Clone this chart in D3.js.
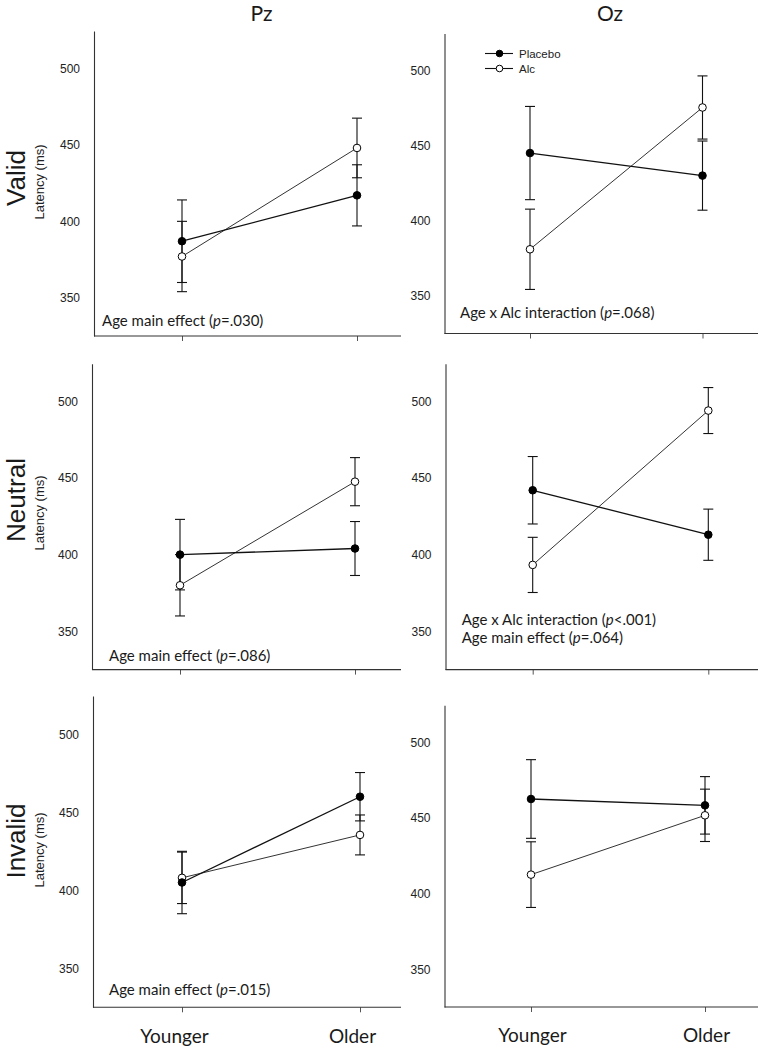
<!DOCTYPE html>
<html><head><meta charset="utf-8">
<script src="https://cdn.jsdelivr.net/npm/d3@7"></script>
<style>
body{margin:0;background:#fff;}
svg{display:block;}
</style></head>
<body>
<svg id="chart" width="762" height="1050"></svg>
<script>
// ---------- DATA ----------
const categories = ["Younger", "Older"];
const sites = ["Pz", "Oz"];
const conditions = ["Valid", "Neutral", "Invalid"];
const yTicks = [350, 400, 450, 500];
const yDomain = [325, 524.5];

// means [Younger, Older], per condition (rows) x site (cols)
const placeboMean = [
  [[387, 417], [445, 430]],
  [[400, 404], [442, 413]],
  [[405, 460], [462.5, 458.3]]
];
const placeboErr = [
  [[27, 20], [31, 23]],
  [[23, 17.6], [22, 16.7]],
  [[20, 15.5], [26, 19]]
];
const alcMean = [
  [[377, 448], [381, 475.3]],
  [[380, 447.6], [393.3, 494]],
  [[408, 435.5], [412.5, 451.7]]
];
const alcErr = [
  [[23, 19.5], [26.7, 21]],
  [[20, 15.7], [18, 15]],
  [[16.5, 12.8], [21.7, 17.3]]
];
const annotations = [
  [["Age main effect (|p|=.030)"], ["Age x Alc interaction (|p|=.068)"]],
  [["Age main effect (|p|=.086)"], ["Age x Alc interaction (|p|<.001)", "Age main effect (|p|=.064)"]],
  [["Age main effect (|p|=.015)"], []]
];
const legendLabels = ["Placebo", "Alc"];

// ---------- LAYOUT ----------
const L = {
  yRange: [
    [[336, 31], [333.5, 33.5]],
    [[669.6, 363.8], [669.6, 363.8]],
    [[1007.3, 696.1], [1007, 705.2]]
  ],
  axisX: [[94, 444.5], [92, 445.5], [93, 444.5]],
  axisEnd: [401, 758],
  pts: [
    [[182, 357], [530, 702.5]],
    [[180, 355], [532.7, 708.3]],
    [[182, 360], [531, 705]]
  ],
  annX: [[102, 460], [109, 461.7], [109, 0]],
  annY: [[326, 318], [661, 624.5], [995, 0]],
  rowLabelY: [178, 500, 841],
  latY: [182, 513, 850],
  colTitleX: [261.5, 610]
};

const svg = d3.select("#chart");
const ink = "#1a1a1a";
const bodyFont = "Lato, 'Open Sans', sans-serif";
const arial = "'Liberation Sans', Arial, sans-serif";

// column titles
sites.forEach((s, c) => {
  svg.append("text").attr("x", L.colTitleX[c]).attr("y", 21)
    .attr("text-anchor", "middle").attr("font-family", bodyFont)
    .attr("font-size", 21).attr("fill", ink).text(s);
});

// row labels
conditions.forEach((cond, r) => {
  svg.append("text")
    .attr("transform", `translate(25,${L.rowLabelY[r]}) rotate(-90)`)
    .attr("text-anchor", "middle").attr("font-family", arial)
    .attr("font-size", 26).attr("fill", ink).text(cond);
  svg.append("text")
    .attr("transform", `translate(44,${L.latY[r]}) rotate(-90)`)
    .attr("text-anchor", "middle").attr("font-family", arial)
    .attr("font-size", 13).attr("fill", "#222").text("Latency (ms)");
});

function richText(sel, str) {
  str.split("|").forEach((part, i) => {
    if (!part) return;
    sel.append("tspan").attr("font-style", i % 2 === 1 ? "italic" : "normal").text(part);
  });
}

conditions.forEach((cond, r) => {
  sites.forEach((site, c) => {
    const g = svg.append("g");
    const y = d3.scaleLinear().domain(yDomain).range(L.yRange[r][c]);
    const x = d3.scalePoint().domain(categories).range(L.pts[r][c]);
    const ax = L.axisX[r][c];
    const yBottom = L.yRange[r][c][0];

    // y axis
    const yAxis = g.append("g").attr("transform", `translate(${ax},0)`)
      .call(d3.axisLeft(y).tickValues(yTicks).tickSize(0).tickPadding(14).tickFormat(d3.format("d")));
    yAxis.select(".domain").attr("stroke", "#333").attr("stroke-width", 1.1);
    yAxis.selectAll("text").attr("font-family", arial).attr("font-size", 12).attr("fill", "#222");

    // x axis
    const xAxis = g.append("g").attr("transform", `translate(0,${yBottom})`)
      .call(d3.axisBottom(x).tickSize(5).tickPadding(17));
    xAxis.select(".domain").remove();
    xAxis.selectAll(".tick line").attr("stroke", "#555");
    xAxis.selectAll("text").attr("font-family", bodyFont).attr("font-size", 19).attr("fill", ink)
      .attr("dy", "0.71em").attr("dx", c === 0 ? -8 : 1)
      .style("display", r === conditions.length - 1 ? null : "none");
    g.append("line").attr("x1", ax).attr("x2", L.axisEnd[c])
      .attr("y1", yBottom).attr("y2", yBottom).attr("stroke", "#333").attr("stroke-width", 1.1);

    const series = [
      {name: "Placebo", mean: placeboMean[r][c], err: placeboErr[r][c], fill: "#000", lineW: 1.3, lineC: "#111"},
      {name: "Alc", mean: alcMean[r][c], err: alcErr[r][c], fill: "#fff", lineW: 1, lineC: "#333"}
    ];

    // error bars
    series.forEach(s => {
      categories.forEach((cat, i) => {
        const cx = x(cat), lo = y(s.mean[i] - s.err[i]), hi = y(s.mean[i] + s.err[i]);
        g.append("line").attr("x1", cx).attr("x2", cx).attr("y1", lo).attr("y2", hi)
          .attr("stroke", "#111").attr("stroke-width", 1.1);
        [lo, hi].forEach(yy => g.append("line").attr("x1", cx - 5).attr("x2", cx + 5)
          .attr("y1", yy).attr("y2", yy).attr("stroke", "#111").attr("stroke-width", 1.1));
      });
    });
    // lines
    const line = d3.line().x((d, i) => x(categories[i])).y(d => y(d));
    series.slice().reverse().forEach(s => {
      g.append("path").datum(s.mean).attr("d", line).attr("fill", "none")
        .attr("stroke", s.lineC).attr("stroke-width", s.lineW);
    });
    // markers
    series.slice().reverse().forEach(s => {
      g.selectAll(null).data(s.mean).enter().append("circle")
        .attr("cx", (d, i) => x(categories[i])).attr("cy", d => y(d)).attr("r", 3.8)
        .attr("fill", s.fill).attr("stroke", "#000").attr("stroke-width", 1);
    });

    // annotations
    annotations[r][c].forEach((a, k) => {
      const t = g.append("text").attr("x", L.annX[r][c]).attr("y", L.annY[r][c] + k * 18.3)
        .attr("font-family", bodyFont).attr("font-size", 15).attr("fill", ink);
      richText(t, a);
    });

    // legend (top-right panel)
    if (r === 0 && c === 1) {
      const lg = g.append("g");
      legendLabels.forEach((lab, k) => {
        const ly = 53.5 + k * 15;
        lg.append("line").attr("x1", 485).attr("x2", 513).attr("y1", ly).attr("y2", ly)
          .attr("stroke", "#111").attr("stroke-width", 1.1);
        lg.append("circle").attr("cx", 499.5).attr("cy", ly).attr("r", 3.3)
          .attr("fill", k === 0 ? "#000" : "#fff").attr("stroke", "#000");
        lg.append("text").attr("x", 519).attr("y", ly + 4).attr("font-family", arial)
          .attr("font-size", 11.5).attr("fill", "#222").text(lab);
      });
    }
  });
});
</script>
</body></html>
